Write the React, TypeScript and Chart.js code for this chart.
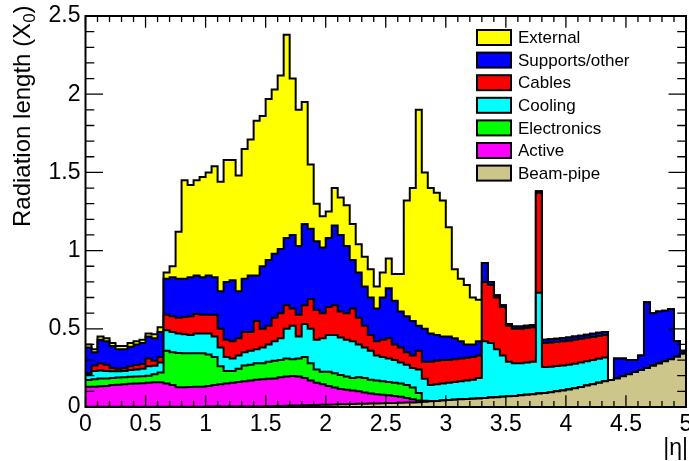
import React, { useEffect, useRef } from 'react';
import { Chart, registerables } from 'chart.js';

Chart.register(...registerables);

// ---- binning (|eta| histogram bins) ----
const ETA_MIN = 0;
const ETA_MAX = 5;
const BIN_WIDTH = 0.05;
const Y_MIN = 0;
const Y_MAX = 2.5;

const X_TICK_LABEL_STEP = 0.5;
const Y_TICK_LABEL_STEP = 0.5;

// Legend labels (top to bottom) and colours
const LEGEND_LABELS = ['External', 'Supports/other', 'Cables', 'Cooling', 'Electronics', 'Active', 'Beam-pipe'];
const LEGEND_COLORS = ['#ffff00', '#0000ff', '#ff0000', '#00ffff', '#00ff00', '#ff00ff', '#cdc68a'];

// ---- cumulative tops of each stacked layer (radiation length, X0), one value per bin ----
// null = layer absent in that bin (falls back to the layer below)
const beamPipeTop = [
  0.002, 0.002, 0.002, 0.002, 0.002, 0.002, 0.002, 0.002, 0.002, 0.002,
  0.002, 0.002, 0.002, 0.002, 0.002, 0.002, 0.002, 0.002, 0.002, 0.002,
  0.003, 0.003, 0.003, 0.003, 0.003, 0.003, 0.003, 0.003, 0.003, 0.003,
  0.005, 0.006, 0.007, 0.008, 0.009, 0.010, 0.011, 0.012, 0.013, 0.014,
  0.015, 0.016, 0.017, 0.018, 0.019, 0.020, 0.021, 0.022, 0.023, 0.024,
  0.025, 0.026, 0.027, 0.028, 0.029, 0.031, 0.033, 0.036, 0.039, 0.042,
  0.045, 0.047, 0.049, 0.051, 0.053, 0.055, 0.057, 0.060, 0.062, 0.065,
  0.068, 0.071, 0.075, 0.078, 0.082, 0.086, 0.090, 0.095, 0.100, 0.106,
  0.112, 0.120, 0.128, 0.137, 0.146, 0.155, 0.164, 0.173, 0.183, 0.196,
  0.210, 0.223, 0.237, 0.250, 0.264, 0.278, 0.292, 0.306, 0.322, 0.340,
];

const N = null;

const activeTop = [
  0.130, 0.130, 0.132, 0.135, 0.140, 0.142, 0.145, 0.148, 0.150, 0.152,
  0.155, 0.158, 0.158, 0.150, 0.140, 0.126, 0.126, 0.128, 0.130, 0.130,
  0.135, 0.140, 0.145, 0.150, 0.155, 0.160, 0.165, 0.170, 0.175, 0.178,
  0.180, 0.183, 0.190, 0.195, 0.198, 0.195, 0.185, 0.170, 0.155, 0.145,
  0.135, 0.125, 0.115, 0.110, 0.105, 0.100, 0.092, 0.087, 0.082, 0.078,
  0.075, 0.070, 0.065, 0.058, 0.050, 0.042, 0.036, N, N, N,
  N, N, N, N, N, N, N, N, N, N,
  N, N, N, N, N, N, N, N, N, N,
  N, N, N, N, N, N, N, N, N, N,
  N, N, N, N, N, N, N, N, N, N,
];

const electronicsTop = [
  0.172, 0.178, 0.183, 0.183, 0.185, 0.188, 0.190, 0.193, 0.195, 0.197,
  0.200, 0.210, 0.220, 0.360, 0.350, 0.345, 0.343, 0.343, 0.343, 0.343,
  0.335, 0.320, 0.260, 0.230, 0.230, 0.245, 0.265, 0.270, 0.280, 0.280,
  0.290, 0.295, 0.300, 0.310, 0.305, 0.310, 0.320, 0.280, 0.240, 0.225,
  0.225, 0.215, 0.205, 0.195, 0.185, 0.190, 0.185, 0.175, 0.170, 0.165,
  0.160, 0.155, 0.150, 0.140, 0.125, 0.090, 0.040, N, N, N,
  N, N, N, N, N, N, N, N, N, N,
  N, N, N, N, N, N, N, N, N, N,
  N, N, N, N, N, N, N, N, N, N,
  N, N, N, N, N, N, N, N, N, N,
];

const coolingTop = [
  0.210, 0.230, 0.233, 0.230, 0.228, 0.228, 0.230, 0.237, 0.240, 0.245,
  0.260, 0.264, 0.285, 0.490, 0.480, 0.470, 0.465, 0.460, 0.470, 0.470,
  0.470, 0.450, 0.380, 0.320, 0.310, 0.330, 0.350, 0.360, 0.370, 0.380,
  0.400, 0.420, 0.440, 0.500, 0.520, 0.450, 0.530, 0.500, 0.430, 0.440,
  0.460, 0.460, 0.445, 0.430, 0.420, 0.400, 0.380, 0.360, 0.330, 0.320,
  0.310, 0.300, 0.285, 0.270, 0.250, 0.240, 0.180, 0.140, 0.145, 0.150,
  0.155, 0.160, 0.165, 0.170, 0.175, 0.185, 0.420, 0.410, 0.370, 0.330,
  0.290, 0.280, 0.280, 0.285, 0.290, 0.730, 0.255, 0.258, 0.262, 0.266,
  0.270, 0.277, 0.284, 0.292, 0.300, 0.308, 0.316, N, N, N,
  N, N, N, N, N, N, N, N, N, N,
];

const cablesTop = [
  0.215, 0.265, 0.278, 0.270, 0.250, 0.245, 0.248, 0.260, 0.268, 0.275,
  0.310, 0.295, 0.320, 0.590, 0.580, 0.570, 0.575, 0.580, 0.595, 0.590,
  0.590, 0.590, 0.500, 0.430, 0.420, 0.440, 0.480, 0.480, 0.550, 0.500,
  0.520, 0.570, 0.600, 0.650, 0.630, 0.590, 0.650, 0.690, 0.620, 0.600,
  0.640, 0.650, 0.610, 0.600, 0.630, 0.570, 0.520, 0.460, 0.420, 0.430,
  0.440, 0.400, 0.380, 0.350, 0.330, 0.360, 0.290, 0.290, 0.295, 0.300,
  0.300, 0.305, 0.310, 0.315, 0.320, 0.330, 0.800, 0.780, 0.700, 0.640,
  0.520, 0.500, 0.500, 0.505, 0.510, 1.370, 0.410, 0.413, 0.416, 0.420,
  0.424, 0.430, 0.436, 0.442, 0.448, 0.454, 0.460, N, N, N,
  N, N, N, N, N, N, N, N, N, N,
];

const supportsTop = [
  0.380, 0.350, 0.430, 0.420, 0.390, 0.370, 0.370, 0.385, 0.400, 0.410,
  0.450, 0.440, 0.480, 0.820, 0.830, 0.820, 0.820, 0.830, 0.840, 0.830,
  0.840, 0.830, 0.740, 0.800, 0.810, 0.740, 0.820, 0.840, 0.840, 0.900,
  0.940, 0.980, 1.010, 1.080, 1.100, 1.030, 1.170, 1.140, 1.060, 1.020,
  1.080, 1.160, 1.100, 1.030, 0.940, 0.860, 0.770, 0.700, 0.630, 0.700,
  0.760, 0.680, 0.610, 0.580, 0.550, 0.520, 0.500, 0.470, 0.460, 0.450,
  0.450, 0.440, 0.420, 0.400, 0.400, 0.420, 0.920, 0.800, 0.715, 0.650,
  0.530, 0.515, 0.515, 0.520, 0.525, 1.380, 0.430, 0.433, 0.436, 0.440,
  0.444, 0.450, 0.456, 0.462, 0.468, 0.474, 0.480, N, 0.310, 0.310,
  0.300, 0.300, 0.330, 0.670, 0.600, 0.610, 0.615, 0.625, 0.420, 0.360,
];

const externalTop = [
  0.400, 0.370, 0.450, 0.440, 0.410, 0.390, 0.390, 0.410, 0.420, 0.430,
  0.470, 0.465, 0.510, 0.860, 0.900, 1.120, 1.450, 1.420, 1.450, 1.470,
  1.500, 1.540, 1.440, 1.580, 1.580, 1.480, 1.650, 1.710, 1.830, 1.860,
  1.970, 2.030, 2.120, 2.380, 2.100, 1.900, 1.950, 1.550, 1.300, 1.220,
  1.250, 1.400, 1.340, 1.290, 1.170, 1.040, 0.960, 0.880, 0.770, 0.860,
  0.950, 0.850, 0.850, 1.320, 1.400, 1.900, 1.500, 1.400, 1.370, 1.320,
  1.150, 0.880, 0.820, 0.780, 0.700, 0.685, N, N, N, N,
  N, N, N, N, N, N, N, N, N, N,
  N, N, N, N, N, N, N, N, N, N,
  N, N, N, N, N, N, N, N, N, N,
];

const FONT = '"Liberation Sans", Arial, Helvetica, sans-serif';

const fmtTick = (v: any) => String(Number(Number(v).toFixed(2)));

function buildDatasets() {
  const nBins = Math.round((ETA_MAX - ETA_MIN) / BIN_WIDTH);
  // bottom-up order: beam-pipe first
  const layers: (number | null)[][] = [beamPipeTop, activeTop, electronicsTop, coolingTop, cablesTop, supportsTop, externalTop];
  const resolved: number[][] = [];
  let below: number[] = [];
  layers.forEach((arr, li) => {
    const r = arr.map((v, i) => (v == null ? (li === 0 ? 0 : below[i]) : v));
    resolved.push(r);
    below = r;
  });
  return resolved.map((r, li) => {
    const legendIndex = LEGEND_LABELS.length - 1 - li;
    const pts = r.map((v, i) => ({ x: ETA_MIN + i * BIN_WIDTH, y: v }));
    pts.push({ x: ETA_MAX, y: r[nBins - 1] });
    return {
      label: LEGEND_LABELS[legendIndex],
      data: pts,
      stepped: true,
      fill: 'origin',
      backgroundColor: LEGEND_COLORS[legendIndex],
      borderColor: '#000000',
      borderWidth: 2,
      pointRadius: 0,
      pointHitRadius: 0,
      tension: 0,
    };
  });
}

const rootFramePlugin = {
  id: 'rootFrame',
  afterDraw(chart: any) {
    const { ctx, chartArea: a, scales } = chart;
    const x = scales.x;
    const y = scales.y;
    ctx.save();
    ctx.strokeStyle = '#000';
    ctx.lineWidth = 1.3;
    ctx.beginPath();
    // x ticks (every 0.1, major every 0.5), top and bottom, pointing inward
    const nx = Math.round((ETA_MAX - ETA_MIN) * 10);
    for (let i = 0; i <= nx; i++) {
      const px = x.getPixelForValue(ETA_MIN + i / 10);
      const len = i % 5 === 0 ? 11.7 : 5.9;
      ctx.moveTo(px, a.bottom);
      ctx.lineTo(px, a.bottom - len);
      ctx.moveTo(px, a.top);
      ctx.lineTo(px, a.top + len);
    }
    const ny = Math.round((Y_MAX - Y_MIN) * 10);
    for (let i = 0; i <= ny; i++) {
      const py = y.getPixelForValue(Y_MIN + i / 10);
      const len = i % 5 === 0 ? 17.5 : 8.8;
      ctx.moveTo(a.left, py);
      ctx.lineTo(a.left + len, py);
      ctx.moveTo(a.right, py);
      ctx.lineTo(a.right - len, py);
    }
    ctx.stroke();
    // frame
    ctx.lineWidth = 2;
    ctx.strokeRect(a.left, a.top, a.right - a.left, a.bottom - a.top);

    // y title with subscript
    ctx.fillStyle = '#000';
    ctx.save();
    ctx.translate(30, 227);
    ctx.rotate(-Math.PI / 2);
    ctx.textAlign = 'left';
    ctx.textBaseline = 'alphabetic';
    ctx.font = `24px ${FONT}`;
    const main = 'Radiation length (X';
    ctx.fillText(main, 0, 0);
    let w = ctx.measureText(main).width;
    ctx.font = `17px ${FONT}`;
    ctx.fillText('0', w, 5);
    w += ctx.measureText('0').width;
    ctx.font = `24px ${FONT}`;
    ctx.fillText(')', w, 0);
    ctx.restore();

    // x title
    ctx.font = `23px ${FONT}`;
    ctx.textAlign = 'right';
    ctx.textBaseline = 'alphabetic';
    ctx.fillText('|η|', 688, 455);

    // legend
    const lx = 477;
    const sw = 34;
    const sh = 15;
    const tx = 518;
    const y0 = 37.5;
    const dy = 22.6;
    ctx.font = `17px ${FONT}`;
    ctx.textAlign = 'left';
    ctx.textBaseline = 'middle';
    LEGEND_LABELS.forEach((lab, i) => {
      const cy = y0 + i * dy;
      ctx.fillStyle = LEGEND_COLORS[i];
      ctx.fillRect(lx, cy - sh / 2, sw, sh);
      ctx.lineWidth = 2;
      ctx.strokeStyle = '#000';
      ctx.strokeRect(lx, cy - sh / 2, sw, sh);
      ctx.fillStyle = '#000';
      ctx.fillText(lab, tx, cy + 1);
    });
    ctx.restore();
  },
};

export default function App() {
  const ref = useRef<HTMLCanvasElement | null>(null);
  useEffect(() => {
    if (!ref.current) return;
    const chart = new Chart(ref.current, {
      type: 'line',
      data: { datasets: buildDatasets() as any },
      options: {
        animation: false,
        responsive: false,
        devicePixelRatio: 1,
        events: [],
        layout: { padding: { top: 16, right: 3, left: 0, bottom: 0 } },
        plugins: {
          legend: { display: false },
          tooltip: { enabled: false },
        },
        scales: {
          x: {
            type: 'linear',
            min: ETA_MIN,
            max: ETA_MAX,
            grid: { display: false, drawTicks: false },
            border: { display: false },
            ticks: {
              stepSize: X_TICK_LABEL_STEP,
              autoSkip: false,
              maxRotation: 0,
              padding: 4,
              color: '#000',
              font: { family: FONT, size: 23 },
              callback: fmtTick,
            },
            afterFit: (s: any) => {
              s.height = 54;
              s.paddingLeft = 0;
              s.paddingRight = 0;
            },
          },
          y: {
            type: 'linear',
            min: Y_MIN,
            max: Y_MAX,
            grid: { display: false, drawTicks: false },
            border: { display: false },
            ticks: {
              stepSize: Y_TICK_LABEL_STEP,
              autoSkip: false,
              padding: 5,
              color: '#000',
              font: { family: FONT, size: 23 },
              callback: fmtTick,
            },
            afterFit: (s: any) => {
              s.width = 85.5;
              s.paddingTop = 0;
              s.paddingBottom = 0;
            },
          },
        },
      },
      plugins: [rootFramePlugin],
    });
    return () => chart.destroy();
  }, []);
  return (
    <div style={{ position: 'fixed', left: 0, top: 0, width: 689, height: 461, background: '#ffffff' }}>
      <canvas ref={ref} width={689} height={461} style={{ display: 'block', width: 689, height: 461 }} />
    </div>
  );
}
